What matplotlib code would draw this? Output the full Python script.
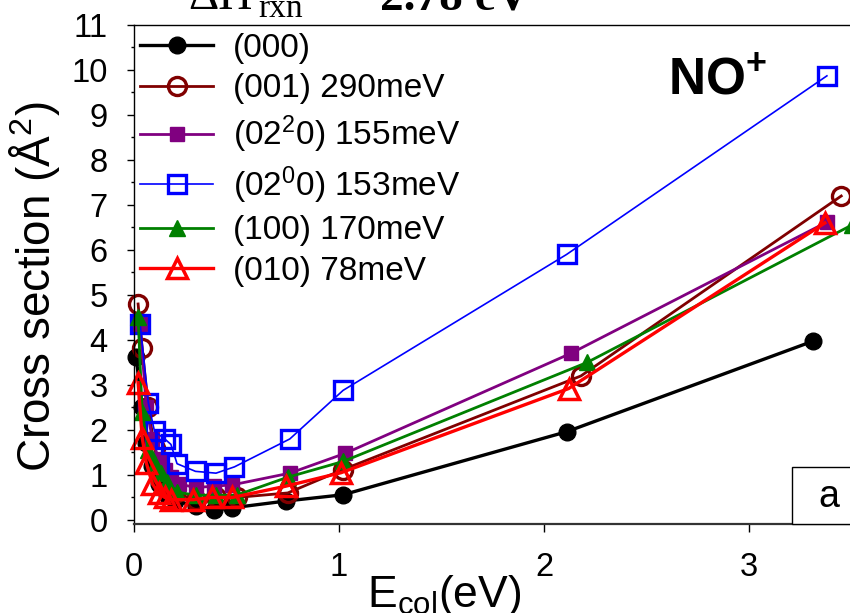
import matplotlib
matplotlib.use('Agg')
import matplotlib.pyplot as plt
from matplotlib.ticker import MultipleLocator
from matplotlib.patches import Rectangle

plt.rcParams['font.family'] = ['Liberation Sans', 'DejaVu Sans']
plt.rcParams['mathtext.fontset'] = 'custom'
plt.rcParams['mathtext.rm'] = 'Liberation Sans'
plt.rcParams['mathtext.it'] = 'Liberation Sans:italic'
plt.rcParams['mathtext.bf'] = 'Liberation Sans:bold'

# ---- data ----
labels = ['(000)', '(001) 290meV', '(02$^{2}$0) 155meV', '(02$^{0}$0) 153meV',
          '(100) 170meV', '(010) 78meV']

x_000 = [0.01, 0.04, 0.06, 0.09, 0.12, 0.16, 0.20, 0.30, 0.39, 0.48, 0.74, 1.02, 2.11, 3.31]
y_000 = [3.62, 2.50, 1.70, 1.20, 0.80, 0.55, 0.42, 0.32, 0.22, 0.27, 0.42, 0.56, 1.96, 3.97]

x_001 = [0.02, 0.04, 0.07, 0.10, 0.13, 0.16, 0.20, 0.30, 0.40, 0.50, 0.75, 1.02, 2.18, 3.45]
y_001 = [4.80, 3.82, 2.50, 1.60, 1.00, 0.75, 0.60, 0.45, 0.50, 0.50, 0.60, 1.12, 3.20, 7.20]

x_0220 = [0.03, 0.06, 0.09, 0.12, 0.15, 0.18, 0.22, 0.30, 0.39, 0.48, 0.76, 1.03, 2.13, 3.38]
y_0220 = [4.35, 2.50, 1.80, 1.35, 1.10, 0.95, 0.80, 0.72, 0.75, 0.78, 1.04, 1.48, 3.70, 6.62]

x_0200 = [0.03, 0.07, 0.10, 0.15, 0.18, 0.21, 0.30, 0.40, 0.49, 0.76, 1.02, 2.11, 3.38]
y_0200 = [4.35, 2.60, 1.97, 1.80, 1.68, 1.25, 1.08, 1.04, 1.18, 1.80, 2.88, 5.90, 9.87]

x_100 = [0.02, 0.04, 0.07, 0.10, 0.13, 0.16, 0.21, 0.30, 0.40, 0.50, 0.75, 1.02, 2.21, 3.50]
y_100 = [4.50, 2.40, 1.55, 1.25, 1.05, 0.85, 0.62, 0.55, 0.55, 0.55, 0.95, 1.30, 3.50, 6.55]

x_010 = [0.02, 0.04, 0.06, 0.09, 0.12, 0.15, 0.18, 0.29, 0.38, 0.48, 0.74, 1.01, 2.12, 3.37]
y_010 = [3.05, 1.83, 1.27, 0.80, 0.60, 0.50, 0.45, 0.45, 0.50, 0.50, 0.75, 1.05, 2.92, 6.60]

xs = [x_000, x_001, x_0220, x_0200, x_100, x_010]
ys = [y_000, y_001, y_0220, y_0200, y_100, y_010]

styles = [
    dict(color='black', lw=2.4, marker='o', ms=12, mfc='black', mec='black'),
    dict(color='#800000', lw=2.0, marker='o', ms=13, mfc='none', mec='#800000', mew=2.4),
    dict(color='#800080', lw=2.0, marker='s', ms=10, mfc='#800080', mec='#800080'),
    dict(color='#0000ff', lw=1.2, marker='s', ms=13, mfc='none', mec='#0000ff', mew=2.4),
    dict(color='#008000', lw=2.0, marker='^', ms=12, mfc='#008000', mec='#008000'),
    dict(color='#ff0000', lw=2.4, marker='^', ms=14, mfc='none', mec='#ff0000', mew=2.5),
]

W, H = 850, 613
fig = plt.figure(figsize=(8.5, 6.13), dpi=100)
xmax = 3.6
ax = fig.add_axes([134 / W, (H - 524) / H, (xmax * 205) / W, (524 - 25) / H])
ax.set_xlim(0, xmax)
ax.set_ylim(-0.09, 11)

handles = []
for x, y, lab, st in zip(xs, ys, labels, styles):
    h, = ax.plot(x, y, label=lab, clip_on=False, **st)
    handles.append(h)

ax.xaxis.set_major_locator(MultipleLocator(1))
ax.yaxis.set_major_locator(MultipleLocator(1))
ax.yaxis.set_minor_locator(MultipleLocator(0.5))
ax.tick_params(axis='both', which='major', direction='out', labelsize=23.5, width=1.0)
ax.tick_params(axis='y', which='major', length=5, pad=14)
ax.tick_params(axis='y', which='minor', length=2.5, width=1.0, direction='out')
ax.tick_params(axis='x', which='major', length=6, pad=14)
for s in ['left', 'top', 'right']:
    ax.spines[s].set_linewidth(1.0)
ax.spines['bottom'].set_linewidth(1.6)
ax.spines['bottom'].set_color('#333333')

# axis labels
fig.text(444 / W, 6 / H, 'E$_{\\rm col}$(eV)', fontsize=32, ha='center', va='baseline')
fig.text(35 / W, (H - 287) / H, 'Cross section (Å$^{2}$)', fontsize=33,
         rotation=90, ha='center', va='center')

# legend
leg = ax.legend(handles=handles, loc='upper left', bbox_to_anchor=(140 / W, (H - 33) / H),
                bbox_transform=fig.transFigure, frameon=False, fontsize=24,
                numpoints=1, handlelength=2.2, handletextpad=0.6, labelspacing=0.28,
                borderpad=0, borderaxespad=0)

# NO+ label
fig.text(668 / W, (H - 95) / H, 'NO$^{\\mathbf{+}}$', fontsize=37, fontweight='bold',
         ha='left', va='baseline')

# panel letter box
ax.add_patch(Rectangle((3.21, -0.09), 0.36, 1.27, facecolor='white', edgecolor='black',
                       lw=1.0, zorder=5, clip_on=False))
ax.text(3.39, 0.50, 'a', fontsize=27, ha='center', va='center', zorder=6)

# clipped title at top
fig.text(188 / W, (H - 9) / H, 'ΔH', fontsize=34, family='Liberation Serif',
         ha='left', va='baseline')
fig.text(258 / W, (H - 17) / H, 'rxn', fontsize=24, family='Liberation Serif',
         ha='left', va='baseline')
fig.text(340 / W, (H - 9) / H, '=', fontsize=34, family='Liberation Serif',
         ha='left', va='baseline')
fig.text(380 / W, (H - 9) / H, '2.78 eV', fontsize=34, family='Liberation Serif',
         fontweight='bold', ha='left', va='baseline')

fig.savefig('out.png', dpi=100)
